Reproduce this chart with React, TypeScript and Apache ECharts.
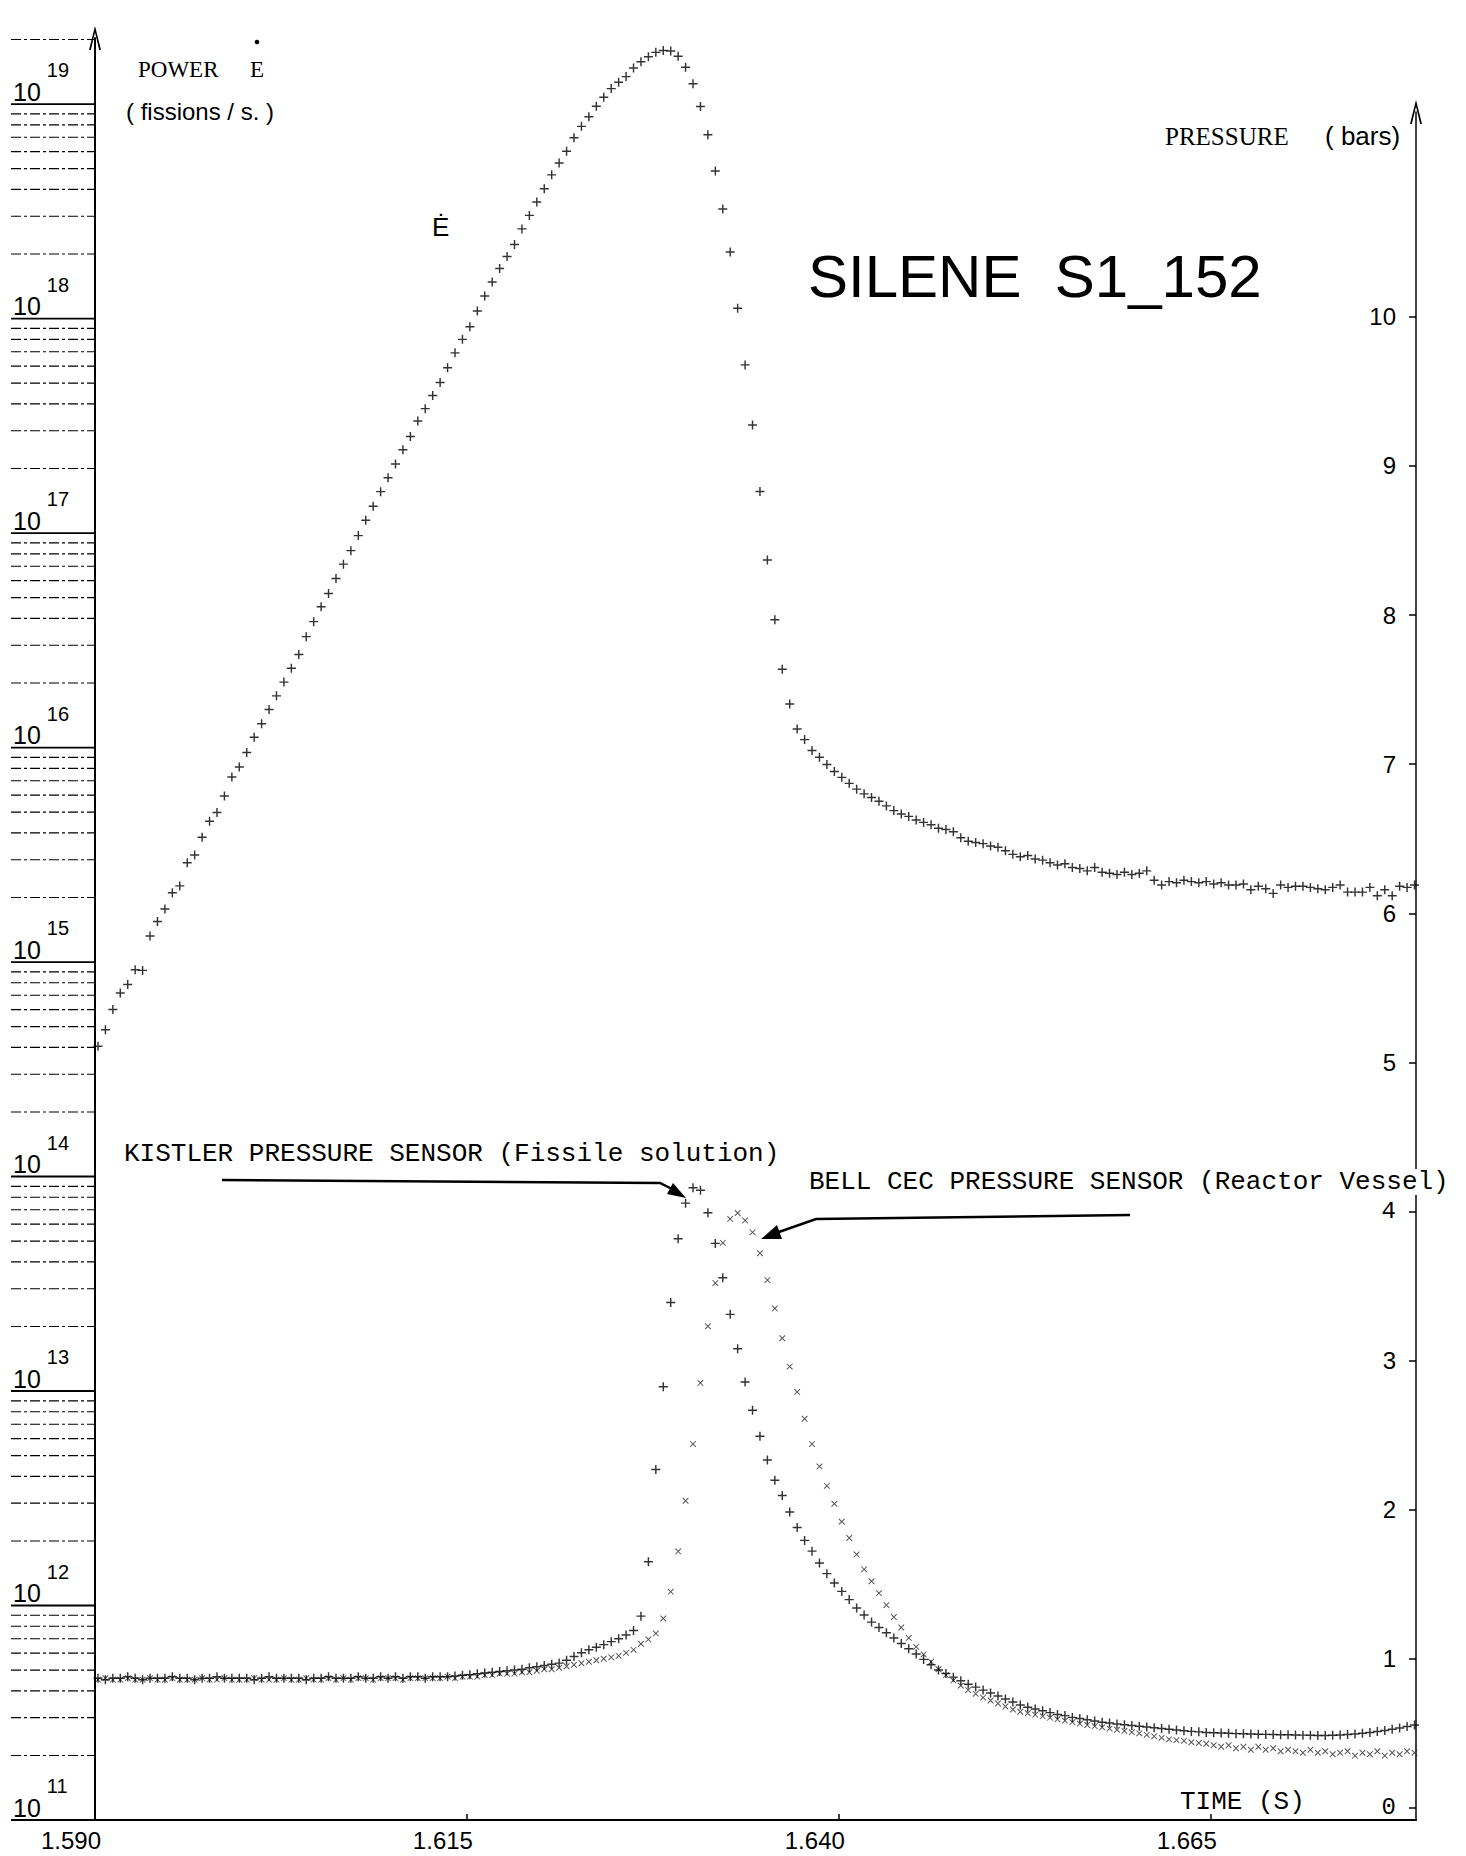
import React, { useEffect, useRef } from "react";
import * as echarts from "echarts";

const T0 = 1.5902;
const DT = 0.0005;

const timeTicks = [1.59, 1.615, 1.64, 1.665];
const pressureTicks = [0, 1, 2, 3, 4, 5, 6, 7, 8, 9, 10];
const powerDecades = [11, 12, 13, 14, 15, 16, 17, 18, 19];

// log10 of the power Ė (fissions/s)
const powerLog10 = [
  14.607, 14.684, 14.779, 14.856, 14.895, 14.964, 14.961, 15.121, 15.189, 15.247,
  15.323, 15.355, 15.463, 15.499, 15.582, 15.656, 15.697, 15.774, 15.863, 15.909,
  15.977, 16.048, 16.111, 16.177, 16.241, 16.305, 16.37, 16.434, 16.517, 16.587,
  16.656, 16.718, 16.788, 16.855, 16.918, 16.988, 17.06, 17.125, 17.193, 17.258,
  17.322, 17.388, 17.45, 17.522, 17.58, 17.641, 17.702, 17.771, 17.84, 17.903,
  17.962, 18.035, 18.105, 18.17, 18.233, 18.289, 18.345, 18.418, 18.481, 18.543,
  18.605, 18.67, 18.725, 18.78, 18.843, 18.896, 18.941, 18.99, 19.032, 19.072,
  19.102, 19.128, 19.168, 19.197, 19.221, 19.241, 19.25, 19.247, 19.223, 19.172,
  19.095, 18.989, 18.857, 18.688, 18.511, 18.31, 18.048, 17.784, 17.504, 17.194,
  16.874, 16.596, 16.365, 16.203, 16.086, 16.037, 15.986,
  15.955, 15.921, 15.888, 15.861, 15.833, 15.806, 15.784, 15.767, 15.75, 15.728,
  15.706, 15.69, 15.679, 15.662, 15.651, 15.64, 15.624, 15.618, 15.607, 15.579,
  15.563, 15.557, 15.552, 15.541, 15.535, 15.519, 15.502, 15.491, 15.497, 15.48,
  15.475, 15.463, 15.452, 15.458, 15.441, 15.436, 15.425, 15.441, 15.419, 15.414,
  15.408, 15.419, 15.408, 15.414, 15.425, 15.381, 15.359, 15.375, 15.37, 15.381,
  15.375, 15.37, 15.375, 15.364, 15.37, 15.359, 15.359, 15.364, 15.337, 15.353,
  15.342, 15.32, 15.359, 15.348, 15.353, 15.353, 15.348, 15.342, 15.337, 15.348,
  15.359, 15.326, 15.326, 15.326, 15.348, 15.309, 15.337, 15.309, 15.353, 15.348, 15.359,
];

// KISTLER pressure sensor (fissile solution), bars
const kistlerBars = [
  0.87, 0.86, 0.87, 0.87, 0.88, 0.87, 0.86, 0.87, 0.87, 0.87,
  0.88, 0.87, 0.87, 0.86, 0.87, 0.87, 0.88, 0.87, 0.87, 0.87,
  0.87, 0.86, 0.87, 0.88, 0.87, 0.87, 0.87, 0.87, 0.86, 0.87,
  0.87, 0.88, 0.87, 0.87, 0.87, 0.88, 0.87, 0.87, 0.88, 0.87,
  0.88, 0.87, 0.88, 0.88, 0.87, 0.88, 0.88, 0.88,
  0.885, 0.89, 0.893, 0.9, 0.905, 0.91, 0.915, 0.92, 0.925, 0.93,
  0.94, 0.947, 0.955, 0.963, 0.971, 0.99, 1.015, 1.04, 1.06, 1.078,
  1.095, 1.115, 1.135, 1.16, 1.19, 1.286, 1.651, 2.27, 2.825, 3.389,
  3.817, 4.056, 4.159, 4.143, 3.992, 3.786, 3.556, 3.31, 3.079, 2.857,
  2.667, 2.492, 2.333, 2.198, 2.095, 1.984, 1.881, 1.794, 1.722, 1.643,
  1.571, 1.508, 1.452, 1.397, 1.341, 1.294, 1.246, 1.21, 1.175, 1.139,
  1.103, 1.067, 1.032, 0.996, 0.96, 0.925, 0.901, 0.877, 0.853, 0.829,
  0.81, 0.79, 0.77, 0.75, 0.73, 0.71, 0.69, 0.675, 0.663, 0.651,
  0.639, 0.627, 0.619, 0.607, 0.599, 0.591, 0.583, 0.575, 0.569, 0.563,
  0.558, 0.552, 0.548, 0.542, 0.537, 0.532, 0.527, 0.522, 0.517, 0.513,
  0.51, 0.506, 0.504, 0.502, 0.5, 0.498, 0.497, 0.495, 0.494, 0.493,
  0.492, 0.491, 0.49, 0.489, 0.488, 0.487, 0.486, 0.486, 0.487, 0.489,
  0.492, 0.496, 0.5, 0.506, 0.512, 0.519, 0.527, 0.536, 0.546, 0.556,
];

// BELL CEC pressure sensor (reactor vessel), bars
const bellBars = [
  0.86, 0.87, 0.86, 0.86, 0.87, 0.86, 0.86, 0.87, 0.86, 0.86,
  0.87, 0.86, 0.86, 0.86, 0.87, 0.86, 0.86, 0.87, 0.86, 0.86,
  0.86, 0.87, 0.86, 0.86, 0.86, 0.87, 0.86, 0.86, 0.87, 0.86,
  0.86, 0.87, 0.86, 0.87, 0.86, 0.87, 0.87, 0.86, 0.87, 0.87,
  0.87, 0.86, 0.87, 0.87, 0.87, 0.87, 0.87, 0.88, 0.87, 0.88,
  0.88, 0.88, 0.89, 0.89, 0.9, 0.9, 0.9, 0.91, 0.91, 0.92,
  0.93, 0.93, 0.94, 0.95, 0.96, 0.97, 0.98, 0.99, 1.0, 1.01,
  1.02, 1.04, 1.06, 1.1, 1.13, 1.17, 1.27, 1.45, 1.72, 2.06,
  2.44, 2.85, 3.23, 3.52, 3.79, 3.95, 3.99, 3.94, 3.86, 3.72,
  3.54, 3.35, 3.15, 2.96, 2.79, 2.61, 2.44, 2.29, 2.16, 2.04,
  1.92, 1.81, 1.7, 1.6, 1.52, 1.44, 1.36, 1.28, 1.21, 1.14,
  1.08, 1.03, 0.98, 0.93, 0.89, 0.855, 0.82, 0.79, 0.765, 0.74,
  0.72, 0.7, 0.68, 0.66, 0.645, 0.635, 0.625, 0.615, 0.605, 0.595,
  0.585, 0.575, 0.565, 0.556, 0.548, 0.54, 0.532, 0.524, 0.516, 0.508,
  0.5, 0.49, 0.48, 0.47, 0.46, 0.455, 0.45, 0.44, 0.435, 0.43,
  0.42, 0.41, 0.42, 0.4, 0.41, 0.39, 0.41, 0.39, 0.4, 0.38,
  0.39, 0.38, 0.37, 0.39, 0.37, 0.38, 0.36, 0.37, 0.38, 0.35,
  0.37, 0.36, 0.38, 0.35, 0.37, 0.36, 0.38, 0.37,
];

const toPoints = (arr: number[]) => arr.map((v, i) => [T0 + DT * i, v]);

// log-scale ruler drawn left of the power axis (decades + 2..9 subdivisions)
const rulerData: number[][] = [];
powerDecades.forEach((n) => {
  rulerData.push([1.59, n, 1]);
  if (n < 19) for (let k = 2; k <= 9; k++) rulerData.push([1.59, n + Math.log10(k), 0]);
});
rulerData.push([1.59, 19 + Math.log10(2), 0]);

const PLUS = "path://M0,4.2H10V5.8H0Z M4.2,0H5.8V10H4.2Z";
const PLUS_THIN = "path://M0,4.4H10V5.6H0Z M4.4,0H5.6V10H4.4Z";
const ARROW = "path://M0,24L6,0L12,24L10.2,24L6,6.5L1.8,24Z";

const SANS = '"Liberation Sans", Arial, sans-serif';
const SERIF = '"Liberation Serif", "Times New Roman", serif';
const MONO = '"Liberation Mono", "Courier New", monospace';

const txt = (text: string, x: number, y: number, fontSize: number, fontFamily: string, extra: any = {}) => ({
  type: "text",
  x,
  y,
  z: 100,
  style: { text, fontSize, fontFamily, fill: "#000", align: "left", verticalAlign: "middle", ...extra },
});

const option: any = {
  animation: false,
  backgroundColor: "#fff",
  grid: [
    { left: 95, right: 50, top: 38, bottom: 36 },
    { left: 95, right: 50, top: 112, bottom: 36 },
  ],
  xAxis: [
    {
      type: "value",
      gridIndex: 0,
      min: 1.59,
      max: 1.6788,
      axisLine: { show: true, onZero: false, lineStyle: { color: "#000", width: 2 } },
      axisTick: { show: true, inside: true, length: 6, customValues: timeTicks, lineStyle: { color: "#000", width: 1.5 } },
      axisLabel: {
        show: true,
        customValues: timeTicks,
        formatter: (v: number) => v.toFixed(3),
        color: "#000",
        fontFamily: SANS,
        fontSize: 24,
        margin: 8,
        padding: [0, 48, 0, 0],
      },
      splitLine: { show: false },
    },
    { type: "value", gridIndex: 1, min: 1.59, max: 1.6788, show: false, splitLine: { show: false } },
  ],
  yAxis: [
    {
      type: "value",
      gridIndex: 0,
      position: "left",
      min: 11,
      max: 19.308,
      axisLine: { show: true, onZero: false, symbol: ["none", ARROW], symbolSize: [12, 24], lineStyle: { color: "#000", width: 2 } },
      axisTick: { show: false },
      axisLabel: {
        show: true,
        customValues: powerDecades,
        formatter: (v: number) => `{b|10}{e|${v}}`,
        align: "left",
        verticalAlign: "bottom",
        margin: 82,
        rich: {
          b: { fontSize: 25, fontFamily: SANS, color: "#000", lineHeight: 44, verticalAlign: "bottom" },
          e: { fontSize: 20, fontFamily: SANS, color: "#000", lineHeight: 44, verticalAlign: "top", padding: [0, 0, 0, 6] },
        },
      },
      splitLine: { show: false },
    },
    {
      type: "value",
      gridIndex: 1,
      position: "right",
      min: -0.0812,
      max: 11.374,
      axisLine: { show: true, onZero: false, symbol: ["none", ARROW], symbolSize: [12, 24], lineStyle: { color: "#000", width: 1.5 } },
      axisTick: { show: true, inside: true, length: 7, customValues: pressureTicks, lineStyle: { color: "#000", width: 1.5 } },
      axisLabel: {
        show: true,
        inside: true,
        customValues: pressureTicks,
        margin: 20,
        color: "#000",
        fontFamily: SANS,
        fontSize: 24,
        formatter: (v: number) => (v === 4 || v === 0 ? `{m|${v}}` : `${v}`),
        rich: { m: { fontFamily: MONO, fontSize: 24, color: "#000" } },
      },
      splitLine: { show: false },
    },
  ],
  series: [
    {
      type: "custom",
      name: "ruler",
      xAxisIndex: 0,
      yAxisIndex: 0,
      clip: false,
      silent: true,
      data: rulerData,
      encode: { x: 0, y: 1 },
      renderItem: (params: any, api: any) => {
        const p = api.coord([api.value(0), api.value(1)]);
        const major = api.value(2) === 1;
        return {
          type: "line",
          shape: { x1: p[0] - 84, y1: p[1], x2: p[0], y2: p[1] },
          style: { stroke: "#000", lineWidth: major ? 1.8 : 1.1, lineDash: major ? null : [10, 3, 3, 3] },
        };
      },
    },
    {
      type: "scatter",
      name: "Power",
      xAxisIndex: 0,
      yAxisIndex: 0,
      data: toPoints(powerLog10),
      symbol: PLUS,
      symbolSize: 9,
      itemStyle: { color: "#000" },
      silent: true,
    },
    {
      type: "scatter",
      name: "BELL CEC",
      xAxisIndex: 1,
      yAxisIndex: 1,
      data: toPoints(bellBars),
      symbol: PLUS_THIN,
      symbolSize: 8,
      symbolRotate: 45,
      itemStyle: { color: "#333", opacity: 0.85 },
      silent: true,
    },
    {
      type: "scatter",
      name: "KISTLER",
      xAxisIndex: 1,
      yAxisIndex: 1,
      data: toPoints(kistlerBars),
      symbol: PLUS,
      symbolSize: 9,
      itemStyle: { color: "#000" },
      silent: true,
    },
  ],
  graphic: [
    txt("POWER", 138, 69, 23, SERIF),
    txt("E", 250, 69, 23, SERIF),
    { type: "circle", z: 100, shape: { cx: 257, cy: 42, r: 2.3 }, style: { fill: "#000" } },
    txt("( fissions / s. )", 126, 111, 24, SANS),
    txt("Ė", 432, 227, 26, SANS),
    txt("PRESSURE", 1165, 136, 25, SERIF),
    txt("( bars)", 1325, 136, 26, SANS),
    txt("SILENE  S1_152", 808, 276, 60, SANS),
    txt("KISTLER PRESSURE SENSOR (Fissile solution)", 124, 1154, 26, MONO),
    txt("BELL CEC PRESSURE SENSOR (Reactor Vessel)", 809, 1182, 26, MONO, { backgroundColor: "#fff" }),
    txt("TIME (S)", 1180, 1802, 26, MONO),
    {
      type: "polyline",
      z: 100,
      shape: { points: [[222, 1180], [660, 1183], [676, 1191]] },
      style: { stroke: "#000", lineWidth: 2.5, fill: "none" },
    },
    { type: "polygon", z: 100, shape: { points: [[686, 1198], [667, 1194], [673, 1183]] }, style: { fill: "#000" } },
    {
      type: "polyline",
      z: 100,
      shape: { points: [[1130, 1215], [816, 1219], [776, 1233]] },
      style: { stroke: "#000", lineWidth: 2.5, fill: "none" },
    },
    { type: "polygon", z: 100, shape: { points: [[761, 1239], [782, 1239], [777, 1225]] }, style: { fill: "#000" } },
  ],
};

export default function App() {
  const ref = useRef<HTMLDivElement>(null);
  useEffect(() => {
    const chart = echarts.init(ref.current as HTMLDivElement, null, { renderer: "svg" });
    chart.setOption(option);
    return () => chart.dispose();
  }, []);
  return (
    <div
      ref={ref}
      style={{ position: "absolute", left: 0, top: 0, width: 1466, height: 1856, background: "#fff" }}
    />
  );
}
